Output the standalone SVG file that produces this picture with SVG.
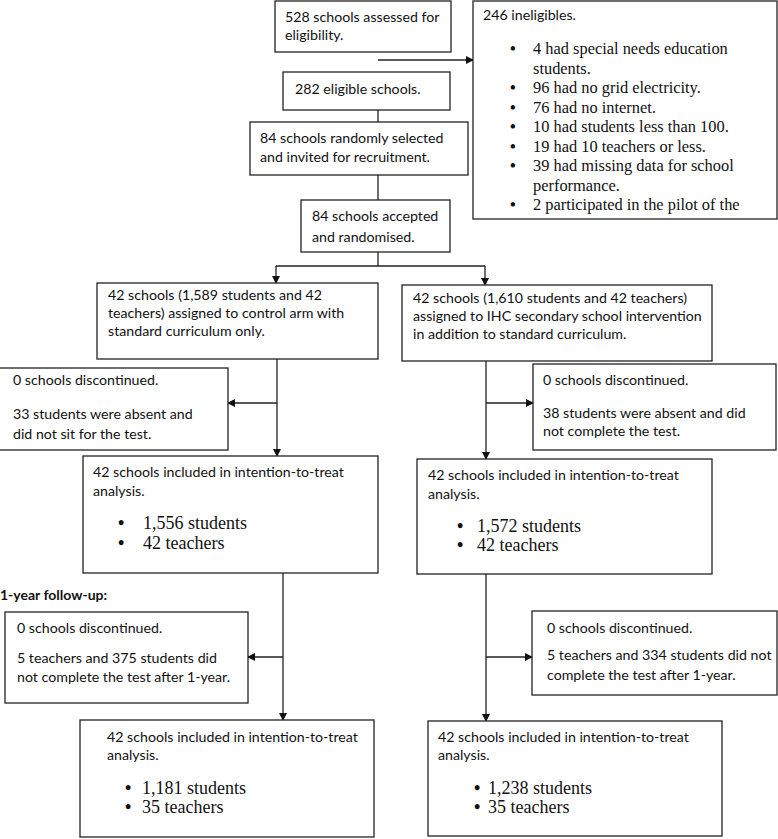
<svg xmlns="http://www.w3.org/2000/svg" width="778" height="839" viewBox="0 0 778 839">
<defs>
<marker id="ah" markerWidth="8" markerHeight="8" refX="7" refY="4" orient="auto" markerUnits="userSpaceOnUse">
<path d="M0,0 L8,4 L0,8 z" fill="#111"/>
</marker>
<style>
rect{fill:#fff;stroke:#222;stroke-width:1.3}
.t{font-family:Lato,"Liberation Sans",sans-serif;font-size:14.2px;fill:#111}
.s{font-family:"Liberation Serif",serif;font-size:16.4px;fill:#111}
.b{font-family:"Liberation Serif",serif;font-size:18px;fill:#111}
.d{font-weight:bold}
.h{font-family:Lato,"Liberation Sans",sans-serif;font-size:14px;font-weight:bold;fill:#111}
#conn line{stroke:#222;stroke-width:1.3;fill:none}
</style>
</defs>
<rect x="0" y="0" width="778" height="839" style="fill:#fff;stroke:none"/>
<g id="conn">
<line x1="378" y1="60" x2="473" y2="60" marker-end="url(#ah)"/>
<line x1="378" y1="110" x2="378" y2="122"/>
<line x1="378" y1="175" x2="378" y2="200"/>
<line x1="378" y1="252" x2="378" y2="266"/>
<line x1="276" y1="266" x2="485" y2="266"/>
<line x1="276" y1="266" x2="276" y2="283" marker-end="url(#ah)"/>
<line x1="485" y1="266" x2="485" y2="285" marker-end="url(#ah)"/>
<line x1="277" y1="359" x2="277" y2="456" marker-end="url(#ah)"/>
<line x1="277" y1="403" x2="228" y2="403" marker-end="url(#ah)"/>
<line x1="486" y1="361" x2="486" y2="459" marker-end="url(#ah)"/>
<line x1="486" y1="403" x2="533" y2="403" marker-end="url(#ah)"/>
<line x1="283" y1="573" x2="283" y2="720" marker-end="url(#ah)"/>
<line x1="283" y1="657" x2="248" y2="657" marker-end="url(#ah)"/>
<line x1="486" y1="574" x2="486" y2="721" marker-end="url(#ah)"/>
<line x1="486" y1="657" x2="532" y2="657" marker-end="url(#ah)"/>
</g>
<g id="n1"><rect x="275" y="1" width="176" height="51"/>
<text class="t" x="285" y="22">528 schools assessed for</text>
<text class="t" x="285" y="40">eligibility.</text></g>
<g id="n2"><rect x="473" y="1" width="304" height="218"/>
<text class="t" x="483" y="20">246 ineligibles.</text>
<g class="s">
<text class="d" x="510" y="54">•</text><text x="533" y="54">4 had special needs education</text>
<text x="533" y="73.5">students.</text>
<text class="d" x="510" y="93">•</text><text x="533" y="93">96 had no grid electricity.</text>
<text class="d" x="510" y="112.5">•</text><text x="533" y="112.5">76 had no internet.</text>
<text class="d" x="510" y="132">•</text><text x="533" y="132">10 had students less than 100.</text>
<text class="d" x="510" y="151.5">•</text><text x="533" y="151.5">19 had 10 teachers or less.</text>
<text class="d" x="510" y="171">•</text><text x="533" y="171">39 had missing data for school</text>
<text x="533" y="190.5">performance.</text>
<text class="d" x="510" y="210">•</text><text x="533" y="210">2 participated in the pilot of the</text>
</g></g>
<g id="n3"><rect x="283" y="72" width="167" height="38"/>
<text class="t" x="295" y="94">282 eligible schools.</text></g>
<g id="n4"><rect x="250" y="122" width="218" height="53"/>
<text class="t" x="260" y="143">84 schools randomly selected</text>
<text class="t" x="260" y="162">and invited for recruitment.</text></g>
<g id="n5"><rect x="301" y="200" width="149" height="52"/>
<text class="t" x="312" y="221">84 schools accepted</text>
<text class="t" x="312" y="242">and randomised.</text></g>
<g id="n6"><rect x="97" y="283" width="281" height="76"/>
<text class="t" x="108" y="300">42 schools (1,589 students and 42</text>
<text class="t" x="108" y="318">teachers) assigned to control arm with</text>
<text class="t" x="108" y="336">standard curriculum only.</text></g>
<g id="n7"><rect x="402" y="285" width="310" height="76"/>
<text class="t" x="413" y="303">42 schools (1,610 students and 42 teachers)</text>
<text class="t" x="413" y="321">assigned to IHC secondary school intervention</text>
<text class="t" x="413" y="339">in addition to standard curriculum.</text></g>
<g id="n8"><rect x="-1" y="368" width="229" height="82"/>
<text class="t" x="13" y="385">0 schools discontinued.</text>
<text class="t" x="13" y="419">33 students were absent and</text>
<text class="t" x="13" y="439">did not sit for the test.</text></g>
<g id="n9"><rect x="533" y="364" width="243" height="86"/>
<text class="t" x="543" y="385">0 schools discontinued.</text>
<text class="t" x="543" y="418">38 students were absent and did</text>
<text class="t" x="543" y="436">not complete the test.</text></g>
<g id="n10"><rect x="83" y="456" width="295" height="117"/>
<text class="t" x="93" y="477">42 schools included in intention-to-treat</text>
<text class="t" x="93" y="496">analysis.</text>
<text class="b d" x="118" y="529">•</text><text class="b" x="143" y="529">1,556 students</text>
<text class="b d" x="118" y="549">•</text><text class="b" x="143" y="549">42 teachers</text></g>
<g id="n11"><rect x="417" y="459" width="295" height="115"/>
<text class="t" x="428" y="480">42 schools included in intention-to-treat</text>
<text class="t" x="428" y="499">analysis.</text>
<text class="b d" x="457" y="532">•</text><text class="b" x="477" y="532">1,572 students</text>
<text class="b d" x="457" y="551">•</text><text class="b" x="477" y="551">42 teachers</text></g>
<text id="lbl" class="h" x="0" y="600">1-year follow-up:</text>
<g id="n12"><rect x="5" y="612" width="243" height="91"/>
<text class="t" x="17" y="633">0 schools discontinued.</text>
<text class="t" x="17" y="663">5 teachers and 375 students did</text>
<text class="t" x="17" y="682">not complete the test after 1-year.</text></g>
<g id="n13"><rect x="532" y="611" width="245" height="84"/>
<text class="t" x="547" y="633">0 schools discontinued.</text>
<text class="t" x="547" y="660">5 teachers and 334 students did not</text>
<text class="t" x="547" y="680">complete the test after 1-year.</text></g>
<g id="n14"><rect x="80" y="720" width="294" height="117"/>
<text class="t" x="107" y="742">42 schools included in intention-to-treat</text>
<text class="t" x="107" y="760">analysis.</text>
<text class="b d" x="125" y="794">•</text><text class="b" x="142" y="794">1,181 students</text>
<text class="b d" x="125" y="813">•</text><text class="b" x="142" y="813">35 teachers</text></g>
<g id="n15"><rect x="428" y="721" width="294" height="115"/>
<text class="t" x="438" y="742">42 schools included in intention-to-treat</text>
<text class="t" x="438" y="760">analysis.</text>
<text class="b d" x="474" y="794">•</text><text class="b" x="488" y="794">1,238 students</text>
<text class="b d" x="474" y="813">•</text><text class="b" x="488" y="813">35 teachers</text></g>
</svg>
